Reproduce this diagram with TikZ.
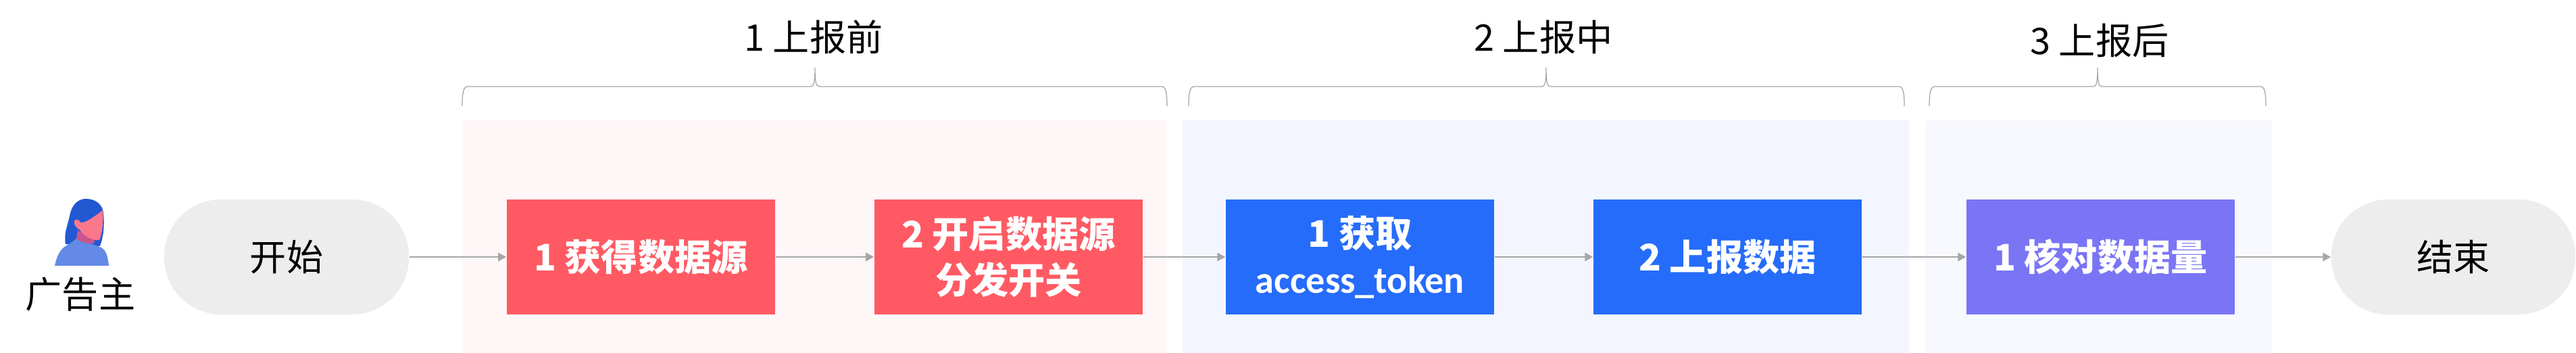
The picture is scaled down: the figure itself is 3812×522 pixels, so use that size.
\documentclass[tikz,border=0pt]{standalone}
\usepackage{fontspec}
\setmainfont{Noto Sans CJK SC}
\newfontfamily\narrowfont{Carlito}
\usepackage{xcolor}
\usetikzlibrary{arrows.meta}
\definecolor{linegray}{HTML}{A6A6A6}
\definecolor{pillgray}{HTML}{EDEDED}
\definecolor{redbg}{HTML}{FEF6F7}
\definecolor{bluebg}{HTML}{F3F6FE}
\definecolor{violetbg}{HTML}{F8F9FE}
\definecolor{redbox}{HTML}{FF5A63}
\definecolor{bluebox}{HTML}{266CFA}
\definecolor{violetbox}{HTML}{7A75F5}
\definecolor{hair}{HTML}{2258D2}
\definecolor{shirt}{HTML}{628AE6}
\definecolor{neck}{HTML}{C8558F}
\definecolor{face}{HTML}{FB788C}
\tikzset{
  lab/.style={text=black, font=\fontsize{15.4pt}{19.4pt}\selectfont, align=center, inner sep=0pt},
  panel/.style={rectangle, inner sep=0pt, minimum height=3.44cm},
  stepbox/.style={rectangle, inner sep=0pt, minimum width=3.97cm, minimum height=1.7cm, text=white,
    font=\fontsize{15.4pt}{19.4pt}\selectfont\bfseries, align=center},
  pill/.style={rectangle, rounded corners=0.84cm, fill=pillgray, inner sep=0pt, minimum height=1.7cm, lab},
  link/.style={draw=linegray, line width=0.36pt, -{Triangle[length=3.4pt,width=3.6pt]}},
  bracket/.style={draw=linegray, line width=0.36pt},
}
\begin{document}
\begin{tikzpicture}[x=0.01cm,y=-0.01cm]
  \useasboundingbox (0,0) rectangle (3812,522);

  % background bands
  \node[panel,fill=redbg,minimum width=10.43cm] (panelA) at (1205.5,350) {};
  \node[panel,fill=bluebg,minimum width=10.75cm] (panelB) at (2287.5,350) {};
  \node[panel,fill=violetbg,minimum width=5.13cm] (panelC) at (3105.5,350) {};

  % brackets above the bands
  \foreach \l/\m/\r in {684/1206/1727,1759/2288/2818,2855/3104/3353} {
    \draw[bracket] (\l,157) .. controls (\l,140) and (\l+1,128) .. (\l+8,128)
      -- (\m-6,128) .. controls (\m-1,128) and (\m,118) .. (\m,100)
      .. controls (\m,118) and (\m+1,128) .. (\m+6,128)
      -- (\r-8,128) .. controls (\r-1,128) and (\r,140) .. (\r,157);
  }
  \node[lab] (titleA) at (1204,55) {1 上报前};
  \node[lab] (titleB) at (2284,55) {2 上报中};
  \node[lab] (titleC) at (3107,60) {3 上报后};

  % person
  \fill[hair] (97,361) .. controls (94,345) and (100,335) .. (104,315)
    .. controls (108,300) and (118,294) .. (127,294)
    .. controls (142,294) and (152,303) .. (153,315)
    .. controls (155,335) and (153,350) .. (148,364) -- cycle;
  \fill[shirt] (81,393) .. controls (84,378) and (90,368) .. (97,364)
    .. controls (103,361) and (108,356) .. (113,353)
    -- (150,366) .. controls (156,370) and (159,375) .. (161,393) -- cycle;
  \fill[neck] (115,341) -- (141,352) -- (139,360) .. controls (128,361) and (118,357) .. (113,353) -- cycle;
  \fill[face] (110,327) .. controls (112,323) and (117,324) .. (119,329)
    .. controls (128,330) and (142,318) .. (152,311)
    .. controls (153,325) and (152,345) .. (147,355)
    .. controls (137,356) and (125,350) .. (118,340)
    .. controls (113,337) and (109,333) .. (110,327) -- cycle;
  \node[lab] (owner) at (119,435) {广告主};

  % flow
  \node[pill,minimum width=3.62cm] (start) at (424,380) {开始};
  \node[stepbox,fill=redbox] (getsrc) at (948.5,380) {1 获得数据源};
  \node[stepbox,fill=redbox] (opensrc) at (1492.5,380) {2 开启数据源\\分发开关};
  \node[stepbox,fill=bluebox] (token) at (2012.5,380) {1 获取\\{\narrowfont\fontsize{16pt}{19.4pt}\selectfont access\_token}};
  \node[stepbox,fill=bluebox] (report) at (2556.5,380) {2 上报数据};
  \node[stepbox,fill=violetbox] (check) at (3108.5,380) {1 核对数据量};
  \node[pill,minimum width=3.61cm] (finish) at (3630.5,380) {结束};

  \draw[link] (start)--(getsrc);
  \draw[link] (getsrc)--(opensrc);
  \draw[link] (opensrc)--(token);
  \draw[link] (token)--(report);
  \draw[link] (report)--(check);
  \draw[link] (check)--(finish);
\end{tikzpicture}
\end{document}
